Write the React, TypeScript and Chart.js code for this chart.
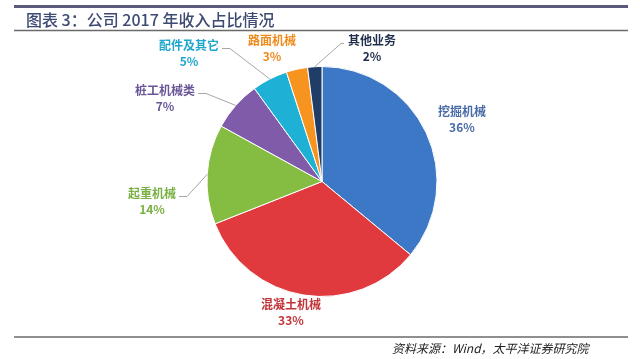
import React, { useEffect, useRef } from "react";
import { Chart, registerables } from "chart.js";

Chart.register(...registerables);

const titleText = "图表 3：公司 2017 年收入占比情况";
const sourceText = "资料来源：Wind，太平洋证券研究院";

const categories = ["挖掘机械", "混凝土机械", "起重机械", "桩工机械类", "配件及其它", "路面机械", "其他业务"];
const shares = [36, 33, 14, 7, 5, 3, 2];
const percentLabels = ["36%", "33%", "14%", "7%", "5%", "3%", "2%"];

const sliceColors = ["#3d78c6", "#e03a3e", "#84bd42", "#7f5ba9", "#1fb1d5", "#f7941f", "#1f3d66"];
const labelColors = ["#4a6ca6", "#c0353a", "#79b043", "#6a5596", "#1fa6cc", "#f08a1c", "#1f2f4c"];

// label placement relative to pie centre, in units of radius (layout only)
const labelOffsets: [number, number][] = [
  [1.217, -0.54],
  [-0.27, 1.14],
  [-1.478, 0.174],
  [-1.365, -0.722],
  [-1.157, -1.113],
  [-0.435, -1.157],
  [0.435, -1.157],
];
const hasLeader = [false, false, true, true, true, false, true];

const decorPlugin = {
  id: "decor",
  afterDraw(chart: any) {
    const ctx = chart.ctx as CanvasRenderingContext2D;
    ctx.save();
    // top rule
    ctx.strokeStyle = "#5a5a7c";
    ctx.lineWidth = 3;
    ctx.beginPath();
    ctx.moveTo(14, 6.5);
    ctx.lineTo(628, 6.5);
    ctx.stroke();
    // title
    ctx.fillStyle = "#3d4a72";
    ctx.font = '500 16px "Noto Sans CJK SC", sans-serif';
    ctx.textBaseline = "middle";
    ctx.textAlign = "left";
    ctx.fillText(titleText, 26, 20);
    // rule under title
    ctx.strokeStyle = "#6a6a6a";
    ctx.lineWidth = 1.5;
    ctx.beginPath();
    ctx.moveTo(14, 30.5);
    ctx.lineTo(628, 30.5);
    ctx.stroke();
    // bottom rule
    ctx.strokeStyle = "#6a6a6a";
    ctx.lineWidth = 1.5;
    ctx.beginPath();
    ctx.moveTo(14, 337);
    ctx.lineTo(628, 337);
    ctx.stroke();
    // source
    ctx.fillStyle = "#222";
    ctx.font = 'italic 12px "Noto Sans CJK SC", sans-serif';
    ctx.textAlign = "left";
    ctx.fillText(sourceText, 392, 348);

    // labels
    const meta = chart.getDatasetMeta(0);
    meta.data.forEach((arc: any, i: number) => {
      const cx = arc.x;
      const cy = arc.y;
      const r = arc.outerRadius;
      const lx = cx + labelOffsets[i][0] * r;
      const ly = cy + labelOffsets[i][1] * r;
      ctx.font = 'bold 12px "Noto Sans CJK SC", sans-serif';
      ctx.textAlign = "center";
      ctx.textBaseline = "middle";
      ctx.fillStyle = labelColors[i];
      const nameY = ly - 8;
      const pctY = ly + 8;
      ctx.fillText(categories[i], lx, nameY);
      ctx.fillText(percentLabels[i], lx, pctY);
      if (hasLeader[i]) {
        const w = ctx.measureText(categories[i]).width;
        const mid = (arc.startAngle + arc.endAngle) / 2;
        const ax = cx + Math.cos(mid) * r;
        const ay = cy + Math.sin(mid) * r;
        const toRight = ax > lx;
        const sx = toRight ? lx + w / 2 + 3 : lx - w / 2 - 4;
        const ex = toRight ? sx + 8 : sx - 3;
        const sy = nameY + 3;
        ctx.strokeStyle = "#a6a6a6";
        ctx.lineWidth = 1;
        ctx.beginPath();
        ctx.moveTo(sx, sy);
        ctx.lineTo(ex, sy);
        ctx.lineTo(ax, ay);
        ctx.stroke();
      }
    });
    ctx.restore();
  },
};

export default function App() {
  const ref = useRef<HTMLCanvasElement | null>(null);
  useEffect(() => {
    if (!ref.current) return;
    const chart = new Chart(ref.current, {
      type: "pie",
      data: {
        labels: categories,
        datasets: [
          {
            data: shares,
            backgroundColor: sliceColors,
            borderColor: "#ffffff",
            borderWidth: 1,
            hoverOffset: 0,
          },
        ],
      },
      options: {
        responsive: false,
        animation: false,
        devicePixelRatio: 1,
        layout: { padding: { top: 66, bottom: 62, left: 150, right: 146 } },
        plugins: {
          legend: { display: false },
          tooltip: { enabled: false },
          title: { display: false },
        },
      },
      plugins: [decorPlugin],
    });
    return () => chart.destroy();
  }, []);
  return (
    <div style={{ position: "fixed", left: 0, top: 0, width: 640, height: 359, background: "#fff" }}>
      <canvas ref={ref} width={640} height={359} style={{ width: 640, height: 359 }} />
    </div>
  );
}
